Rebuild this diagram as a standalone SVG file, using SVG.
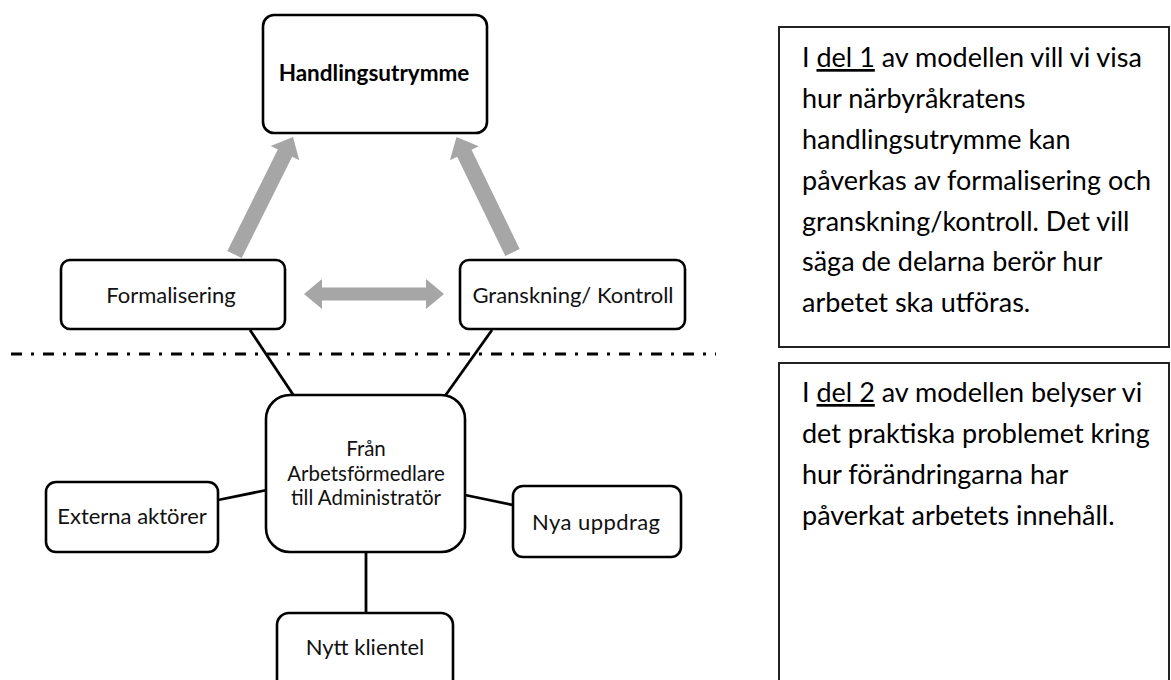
<svg xmlns="http://www.w3.org/2000/svg" width="1171" height="680" viewBox="0 0 1171 680">
<style>
.box{fill:#fff;stroke:#000;stroke-width:2.6}
.note{fill:#fff;stroke:#222;stroke-width:2}
.t{font-family:Lato,"Open Sans",sans-serif;font-size:22px;fill:#111;text-anchor:middle}
.tb{font-family:Lato,"Open Sans",sans-serif;font-size:22.5px;font-weight:bold;fill:#000;text-anchor:middle}
.tc{font-family:Lato,"Open Sans",sans-serif;font-size:20.5px;fill:#111;text-anchor:middle}
.n{font-family:Lato,"Open Sans",sans-serif;font-size:27px;fill:#000}
.ln{stroke:#000;stroke-width:2.8;fill:none}
.dash{stroke:#000;stroke-width:2.8;fill:none;stroke-dasharray:11 9 3 9}
.ga{fill:#a6a6a6}
</style>
<g id="connectors">
<line class="dash" x1="11" y1="354" x2="716" y2="354"/>
<line class="ln" x1="250" y1="330" x2="294" y2="396"/>
<line class="ln" x1="492" y1="330" x2="445" y2="396"/>
<line class="ln" x1="218" y1="500" x2="267" y2="490"/>
<line class="ln" x1="465" y1="495" x2="513" y2="505"/>
<line class="ln" x1="366" y1="552" x2="366" y2="613"/>
<polygon class="ga" points="241.66,258.06 292.14,156.67 299.3,160.24 293,137 270.66,145.98 277.82,149.55 227.34,250.94"/>
<polygon class="ga" points="519.7,249.01 471.55,149.7 478.74,146.21 456.5,137 449.96,160.17 457.15,156.68 505.3,255.99"/>
<polygon class="ga" points="304,294 322,279 322,287.5 426,287.5 426,279 444,294 426,309 426,300.5 322,300.5 322,309"/>
</g>
<g id="handlingsutrymme">
<rect class="box" x="263" y="15" width="224" height="118" rx="11"/>
<text class="tb" x="374" y="81">Handlingsutrymme</text>
</g>
<g id="formalisering">
<rect class="box" x="61" y="260" width="224" height="69" rx="9"/>
<text class="t" x="171" y="303">Formalisering</text>
</g>
<g id="granskning">
<rect class="box" x="460" y="260" width="225" height="69" rx="9"/>
<text class="t" x="573" y="303">Granskning/ Kontroll</text>
</g>
<g id="center">
<rect class="box" x="266" y="395" width="199" height="157" rx="24"/>
<text class="tc" x="366" y="456">Från</text>
<text class="tc" x="366" y="481">Arbetsförmedlare</text>
<text class="tc" x="366" y="505">till Administratör</text>
</g>
<g id="externa">
<rect class="box" x="46" y="482" width="172" height="70" rx="10"/>
<text class="t" x="132" y="524">Externa aktörer</text>
</g>
<g id="nya">
<rect class="box" x="513" y="486" width="168" height="71" rx="10"/>
<text class="t" x="596" y="530" textLength="128">Nya uppdrag</text>
</g>
<g id="nytt">
<rect class="box" x="277" y="613" width="176" height="90" rx="12"/>
<text class="t" x="365" y="655">Nytt klientel</text>
</g>
<g id="note1">
<rect class="note" x="779" y="27" width="390" height="320"/>
<text class="n" x="802" y="67">I <tspan text-decoration="underline">del 1</tspan> av modellen vill vi visa</text>
<text class="n" x="802" y="108">hur närbyråkratens</text>
<text class="n" x="802" y="149">handlingsutrymme kan</text>
<text class="n" x="802" y="190">påverkas av formalisering och</text>
<text class="n" x="802" y="231">granskning/kontroll. Det vill</text>
<text class="n" x="802" y="271">säga de delarna berör hur</text>
<text class="n" x="802" y="312">arbetet ska utföras.</text>
</g>
<g id="note2">
<rect class="note" x="779" y="363" width="390" height="340"/>
<text class="n" x="802" y="402">I <tspan text-decoration="underline">del 2</tspan> av modellen belyser vi</text>
<text class="n" x="802" y="443">det praktiska problemet kring</text>
<text class="n" x="802" y="484">hur förändringarna har</text>
<text class="n" x="802" y="525">påverkat arbetets innehåll.</text>
</g>
</svg>
